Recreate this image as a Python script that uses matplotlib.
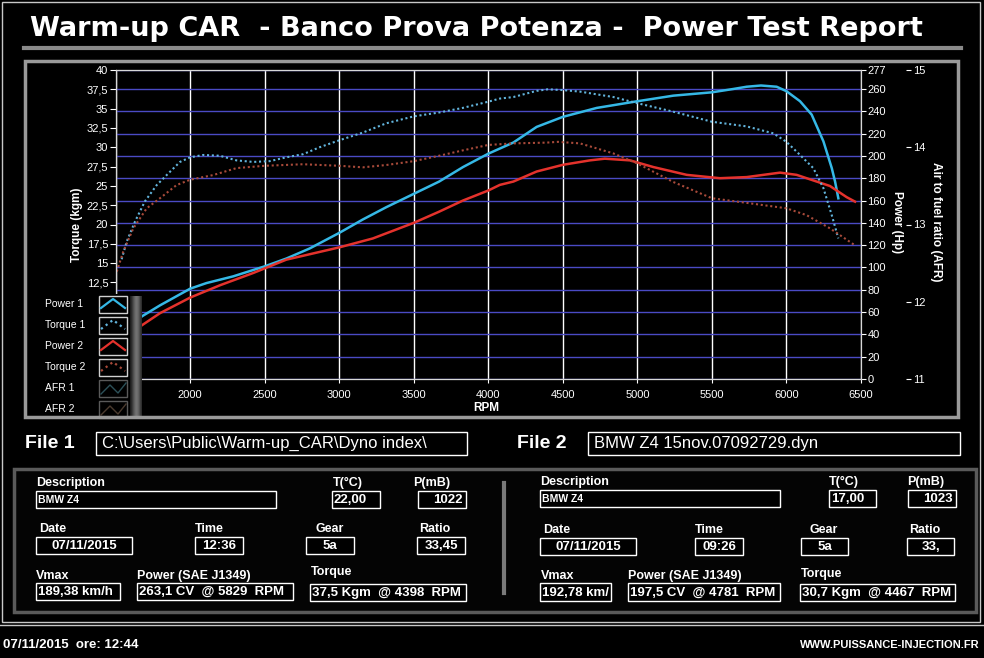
import numpy as np
import matplotlib
matplotlib.use("Agg")
import matplotlib.pyplot as plt
from matplotlib.patches import Rectangle

plt.rcParams['font.family'] = ['Liberation Sans', 'DejaVu Sans']

W, H = 984, 658
PT = 0.72  # points per pixel at dpi 100

# ---- curves ----
rpm_p1 = [1530, 1674, 1797, 2000, 2109, 2288, 2500, 2645, 2801, 3000, 3158, 3315,
          3500, 3670, 3830, 4000, 4168, 4324, 4500, 4727, 5000, 5241, 5500, 5644,
          5733, 5829, 5934, 6000, 6091, 6169, 6248, 6304, 6326, 6348]
power1 = [34, 56, 66, 81, 86, 92, 101, 108, 117, 131, 143, 154,
          166, 177, 190, 202, 212, 226, 235, 243, 249, 254, 257, 260,
          262, 263.1, 262, 258, 249, 237, 213, 189, 177, 162]

rpm_t1 = [1540, 1574, 1630, 1696, 1775, 1842, 1931, 2000, 2087, 2199, 2310, 2422,
          2533, 2645, 2757, 2868, 3000, 3158, 3315, 3500, 3670, 3830, 4000, 4077,
          4168, 4324, 4398, 4500, 4615, 4839, 5000, 5241, 5500, 5733, 5912, 6000,
          6091, 6180, 6248, 6304, 6348]
torque1 = [15.5, 17.8, 20.4, 23.0, 25.1, 26.4, 28.1, 28.7, 29.0, 28.9, 28.3, 28.1,
           28.2, 28.7, 29.1, 30.0, 30.9, 31.9, 33.1, 34.0, 34.5, 35.1, 35.9, 36.3,
           36.5, 37.3, 37.5, 37.4, 37.2, 36.5, 35.7, 34.6, 33.3, 32.7, 31.8, 30.7,
           29.0, 27.3, 24.7, 21.2, 18.2]

rpm_p2 = [1510, 1674, 1797, 2000, 2199, 2422, 2645, 3000, 3225, 3500, 3670, 3830,
          4000, 4077, 4168, 4324, 4500, 4682, 4781, 4950, 5107, 5331, 5554, 5733,
          5957, 6068, 6180, 6292, 6404, 6460]
power2 = [30, 48, 59, 73, 84, 95, 107, 118, 126, 140, 150, 160,
          169, 174, 177, 186, 192, 196, 197.5, 196, 190, 183, 180, 181,
          185, 183, 178, 173, 163, 159]

rpm_t2 = [1507, 1551, 1618, 1708, 1797, 1908, 2000, 2154, 2310, 2500, 2757, 3000,
          3158, 3315, 3500, 3670, 3830, 4000, 4168, 4391, 4467, 4615, 4839, 5000,
          5241, 5500, 5733, 6000, 6136, 6292, 6460]
torque2 = [13.9, 16.5, 19.5, 22.1, 23.4, 25.1, 25.8, 26.4, 27.3, 27.6, 27.8, 27.6,
           27.4, 27.7, 28.2, 28.9, 29.6, 30.3, 30.5, 30.6, 30.7, 30.5, 29.2, 27.9,
           25.5, 23.4, 22.8, 22.1, 21.2, 19.5, 17.3]

rpm_ticks = list(range(1500, 6501, 500))
torque_ticks = [i * 2.5 for i in range(17)]
power_ticks = list(range(0, 261, 20)) + [277]
afr_ticks = [11, 12, 13, 14, 15]

legend_names = ["Power 1", "Torque 1", "Power 2", "Torque 2", "AFR 1", "AFR 2"]

title = "Warm-up CAR  - Banco Prova Potenza -  Power Test Report"
file1_path = "C:\\Users\\Public\\Warm-up_CAR\\Dyno index\\"
file2_path = "BMW Z4 15nov.07092729.dyn"
field_labels = ["Description", "T(°C)", "P(mB)", "Date", "Time", "Gear", "Ratio",
                "Vmax", "Power (SAE J1349)", "Torque"]
file1_values = ["BMW Z4", "22,00", "1022", "07/11/2015", "12:36", "5a", "33,45",
                "189,38 km/h", "263,1 CV  @ 5829  RPM", "37,5 Kgm  @ 4398  RPM"]
file2_values = ["BMW Z4", "17,00", "1023", "07/11/2015", "09:26", "5a", "33,",
                "192,78 km/", "197,5 CV  @ 4781  RPM", "30,7 Kgm  @ 4467  RPM"]
footer_left = "07/11/2015  ore: 12:44"
footer_right = "WWW.PUISSANCE-INJECTION.FR"

# ---- layout (pixels) ----
# label (x, y), box (x0, y0, x1, y1), text alignment
left_layout = [((36, 483), (36, 491, 276, 508), 'l'),
               ((333, 483), (332, 491, 380, 508), 'l'),
               ((413, 483), (418, 491, 466, 508), 'r'),
               ((39, 529), (36, 537, 132, 554), 'c'),
               ((195, 529), (195, 537, 243, 554), 'c'),
               ((315, 529), (306, 537, 354, 554), 'c'),
               ((419, 529), (417, 537, 465, 554), 'c'),
               ((36, 576), (36, 583, 120, 600), 'l'),
               ((137, 576), (137, 583, 293, 600), 'l'),
               ((311, 572), (310, 584, 466, 601), 'l')]
right_layout = [((540, 482), (540, 490, 780, 507), 'l'),
                ((829, 482), (829, 490, 876, 507), 'l'),
                ((907, 482), (908, 490, 956, 507), 'r'),
                ((543, 530), (540, 538, 636, 555), 'c'),
                ((695, 530), (695, 538, 743, 555), 'c'),
                ((810, 530), (801, 538, 848, 555), 'c'),
                ((909, 530), (907, 538, 954, 555), 'c'),
                ((541, 576), (540, 583, 611, 601), 'l'),
                ((628, 576), (628, 583, 780, 601), 'l'),
                ((801, 574), (800, 584, 955, 601), 'l')]

fig = plt.figure(figsize=(W / 100, H / 100), dpi=100, facecolor='black')

# ---- chart ----
px0, px1, py0, py1 = 115.7, 861, 70, 379
ax = fig.add_axes([px0 / W, 1 - py1 / H, (px1 - px0) / W, (py1 - py0) / H])
ax.set_facecolor('black')
axT = ax.twinx()
axA = ax.twinx()

# power scale carries the grid
ax.set_xlim(1500, 6500)
ax.set_ylim(0, 277)
ax.yaxis.tick_right()
ax.set_xticks(rpm_ticks)
ax.set_xticklabels([str(v) for v in rpm_ticks])
ax.set_yticks(power_ticks)
ax.set_yticklabels([str(v) for v in power_ticks])
ax.set_axisbelow(True)
ax.grid(axis='y', color='#4a4ac4', lw=1)
ax.grid(axis='x', color='white', lw=1)
ax.tick_params(axis='y', colors='white', labelsize=8, length=5 * PT, pad=1,
               direction='out')
ax.tick_params(axis='x', colors='white', labelsize=8, length=4 * PT, pad=5,
               direction='out')
ax.plot(rpm_p1, power1, color='#35b8e6', lw=1.8, zorder=3)
ax.plot(rpm_p2, power2, color='#e4322c', lw=1.8, zorder=3)

axT.set_ylim(0, 40)
axT.yaxis.tick_left()
axT.set_yticks(torque_ticks)
axT.set_yticklabels([f"{v:g}".replace('.', ',') for v in torque_ticks])
axT.tick_params(axis='y', colors='white', labelsize=8, length=6 * PT, pad=1,
                direction='out')
axT.plot(rpm_t1, torque1, color='#62b4dc', lw=1.5, ls=(0, (1, 1.3)))
axT.plot(rpm_t2, torque2, color='#a84a3a', lw=1.5, ls=(0, (1, 1.3)))

axA.set_ylim(11, 15)
axA.set_yticks(afr_ticks)
axA.set_yticklabels([str(v) for v in afr_ticks])
axA.spines['right'].set_position(('outward', 45 * PT))
axA.spines['right'].set_visible(False)
axA.tick_params(axis='y', colors='white', labelsize=8, length=5 * PT, pad=1.5,
                direction='out')

for a in (ax, axT, axA):
    for s in ('top', 'left', 'bottom'):
        a.spines[s].set_color('#d8d8d8')
ax.spines['right'].set_color('#d8d8d8')
axT.spines['right'].set_color('#d8d8d8')
ax.spines['bottom'].set_color('#a0a0a0')

# ---- overlay in pixel coordinates ----
ov = fig.add_axes([0, 0, 1, 1], zorder=10)
ov.patch.set_alpha(0)
ov.axis('off')


def rect(x0, y0, x1, y1, ec='white', fc='none', lw=1, z=2):
    ov.add_patch(Rectangle((x0, y0), x1 - x0, y1 - y0, ec=ec, fc=fc, lw=lw, zorder=z))


def txt(x, y, s, size=9, bold=False, ha='left', **kw):
    ov.text(x, y, s, color='white', fontsize=size, fontweight='bold' if bold else 'normal',
            ha=ha, va='center', **kw)


# window frame and title
rect(2, 2, 980, 622, ec='#c8c8c8', lw=1)
ov.plot([0, W], [625, 625], color='#c8c8c8', lw=1)
txt(30, 29, title, size=19.5, bold=True, family=['DejaVu Sans'])
ov.plot([24, 961], [47.5, 47.5], color='#8a8a8a', lw=3)

# chart panel
rect(25, 61, 958, 417, ec='#9a9a9a', lw=2.5, z=6)
txt(77, 225, "Torque (kgm)", size=8.5, bold=True, ha='center', rotation=90)
txt(897, 222, "Power (Hp)", size=8.5, bold=True, ha='center', rotation=270)
txt(936, 222, "Air to fuel ratio (AFR)", size=8.5, bold=True, ha='center', rotation=270)
txt(486, 408, "RPM", size=8.5, bold=True, ha='center')

# legend
rect(26, 294, 142, 416, ec='none', fc='black', z=3)
shade = np.array([[0.12, 0.22, 0.33, 0.42, 0.45, 0.4, 0.3, 0.18]])
ov.imshow(shade, cmap='gray', vmin=0, vmax=1, extent=(130, 142, 416, 296),
          aspect='auto', zorder=4, interpolation='bilinear')
icon_styles = [('#35b8e6', '-', '#d0d0d0'), ('#62b4dc', ':', '#d0d0d0'),
               ('#e4322c', '-', '#d0d0d0'), ('#a84a3a', ':', '#d0d0d0'),
               ('#2c5058', '-', '#5a5a5a'), ('#4a3a2e', '-', '#5a5a5a')]
for i, (name, (col, ls, ec)) in enumerate(zip(legend_names, icon_styles)):
    yc = 304 + 21 * i
    txt(45, yc, name, size=7.5)
    rect(99, yc - 8, 127, yc + 8.5, ec=ec, fc='black', lw=1, z=5)
    if i < 4:
        ov.plot([101, 113, 125], [yc + 4, yc - 5, yc + 4], color=col, lw=1.6,
                ls=ls, zorder=5)
    else:
        ov.plot([101, 110, 118, 126], [yc + 6, yc - 3, yc + 5, yc - 5], color=col,
                lw=1, zorder=5)

ov.set_xlim(0, W)
ov.set_ylim(H, 0)

# file rows
txt(25, 443, "File 1", size=14, bold=True)
rect(96, 432, 467, 455)
txt(102, 443.5, file1_path, size=12)
txt(517, 443, "File 2", size=14, bold=True)
rect(588, 432, 960, 455)
txt(594, 443.5, file2_path, size=12)

# info panel
rect(14, 469, 976, 612, ec='#5a5a5a', fc='#040404', lw=2.5, z=1)
ov.plot([504, 504], [483, 593], color='#7a7a7a', lw=3, zorder=2)

for values, layout in ((file1_values, left_layout), (file2_values, right_layout)):
    for lab, val, ((lx, ly), (x0, y0, x1, y1), al) in zip(field_labels, values, layout):
        txt(lx, ly, lab, size=9, bold=True)
        rect(x0, y0, x1, y1, ec='white', fc='black', lw=1, z=3)
        yc = (y0 + y1) / 2 + 0.5
        size = 7.5 if lab == "Description" else 9.5
        if al == 'l':
            txt(x0 + 2, yc, val, size=size, bold=True, zorder=4)
        elif al == 'r':
            txt(x1 - 3, yc, val, size=size, bold=True, ha='right', zorder=4)
        else:
            txt((x0 + x1) / 2, yc, val, size=size, bold=True, ha='center', zorder=4)

# footer
txt(3, 645, footer_left, size=9.5, bold=True)
txt(980, 645, footer_right, size=8, bold=True, ha='right')

fig.savefig("out.png", dpi=100, facecolor='black')
